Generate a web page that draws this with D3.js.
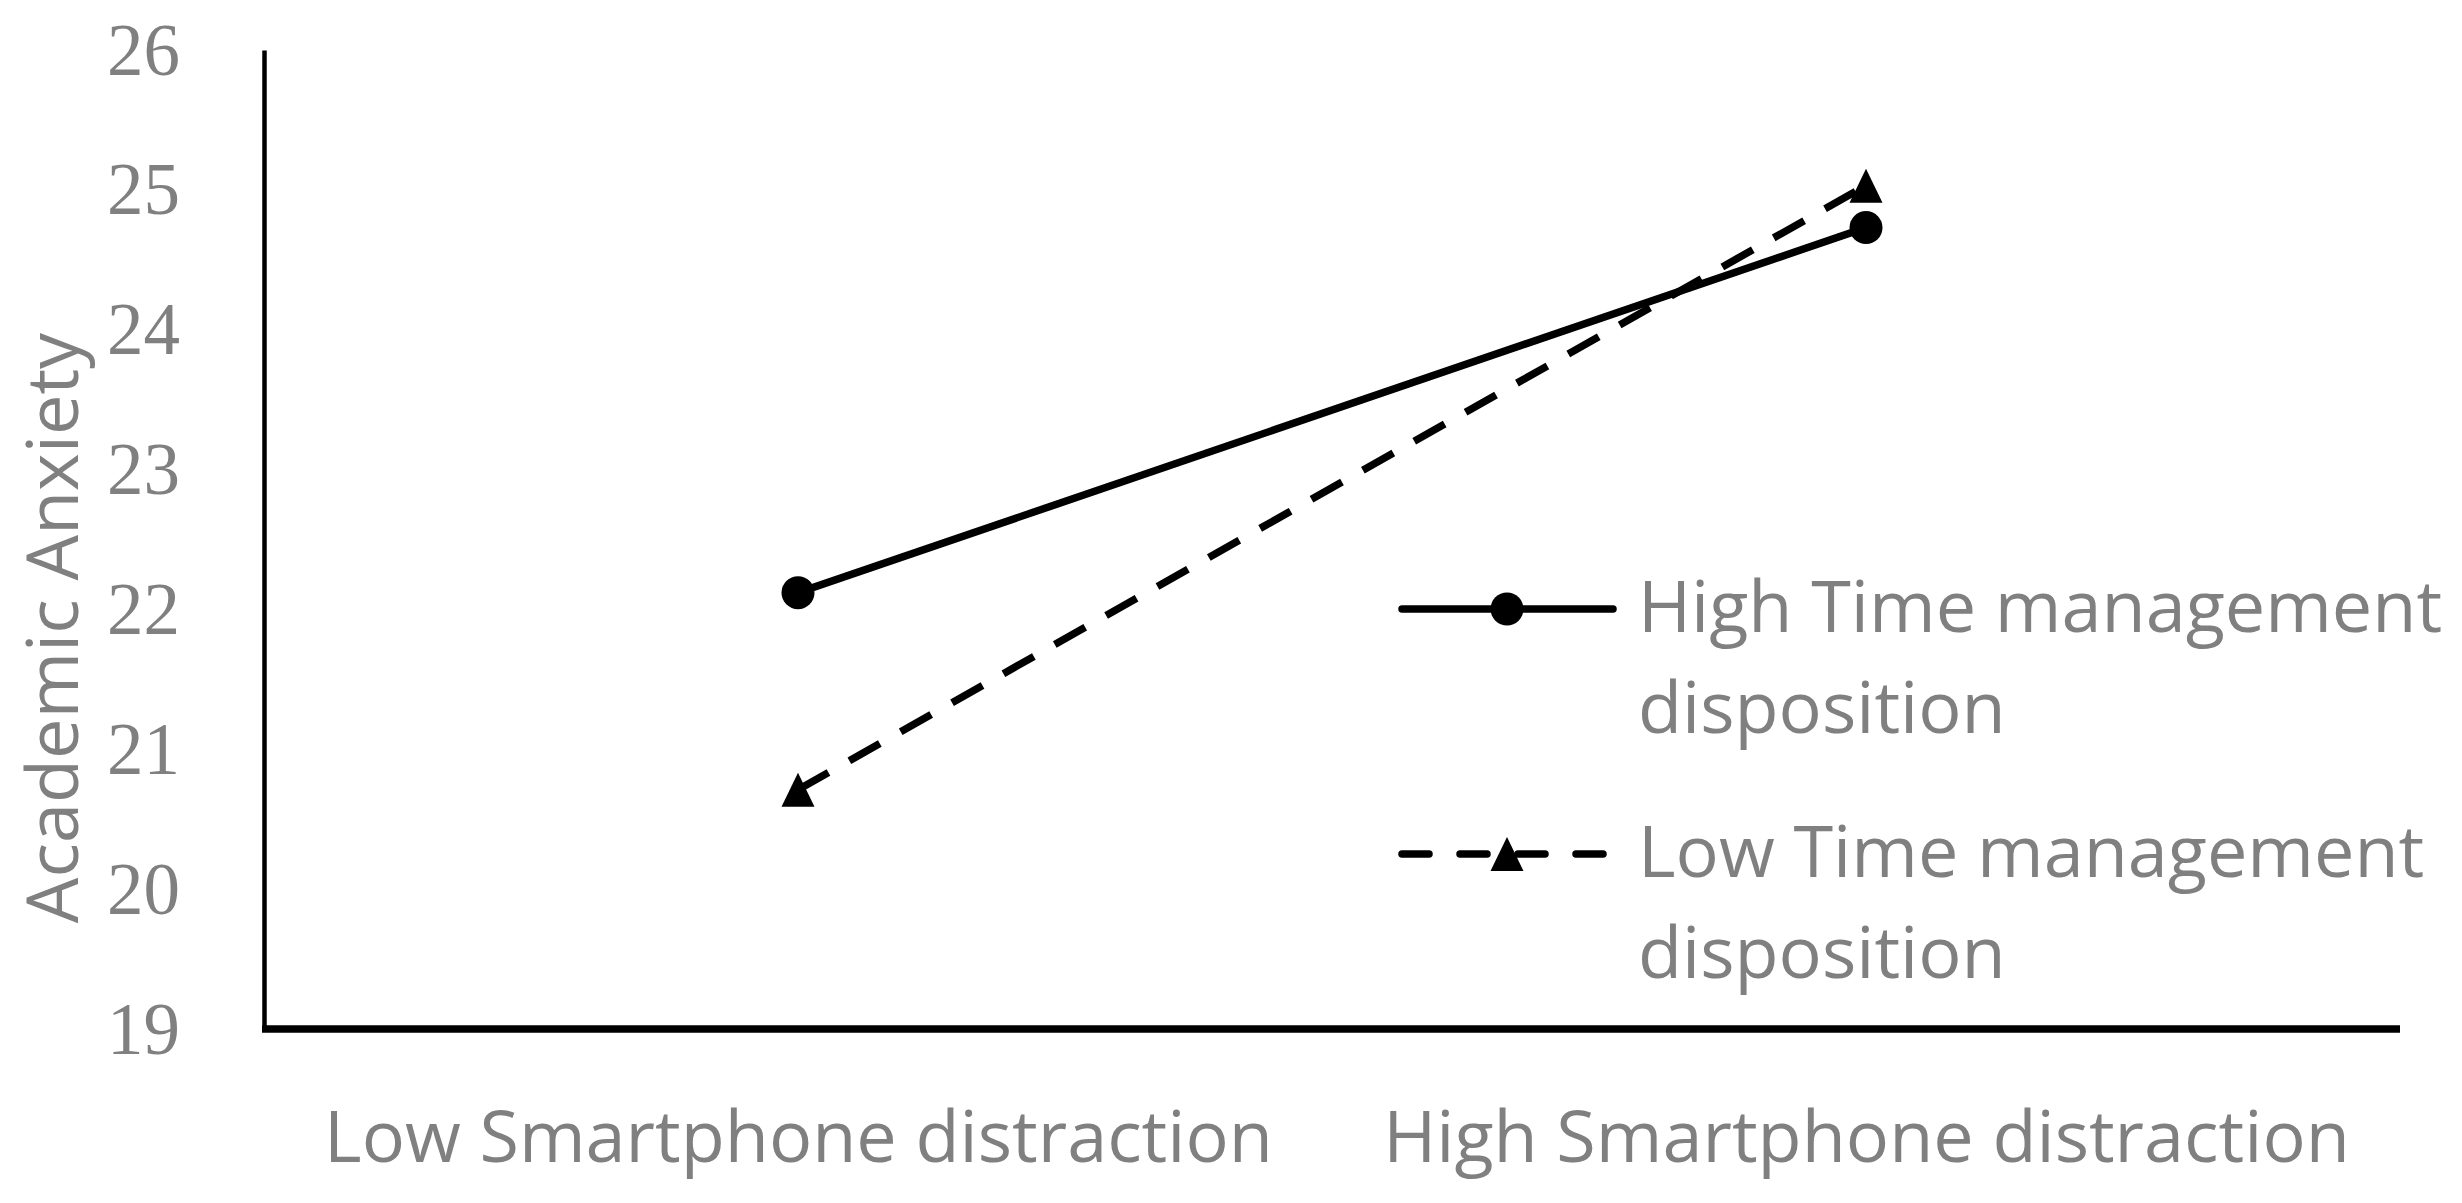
<!DOCTYPE html>
<html>
<head>
<meta charset="utf-8">
<script src="https://cdn.jsdelivr.net/npm/d3@7"></script>
<style>
  html, body { margin: 0; padding: 0; background: #fff; }
  svg { display: block; }
</style>
</head>
<body>
<svg id="chart" width="2462" height="1203"></svg>
<script>
// ---- data ----
const categories = ["Low Smartphone distraction", "High Smartphone distraction"];
const seriesNames = ["High Time management disposition", "Low Time management disposition"];
const legendLines = [["High Time management", "disposition"], ["Low Time management", "disposition"]];
const highTM = [22.12, 24.73];
const lowTM = [20.71, 25.03];
const yTicks = [19, 20, 21, 22, 23, 24, 25, 26];
const yTitle = "Academic Anxiety";

// ---- layout ----
const W = 2462, H = 1203;
const plot = { left: 264, right: 2400, top: 50, bottom: 1029 };
const grey = "#808080";
const sansFont = "'Open Sans', 'Noto Sans', sans-serif";
const serifFont = "'Liberation Serif', 'DejaVu Serif', serif";
const sansSize = 72;

const svg = d3.select("#chart");

const x = d3.scalePoint().domain(categories).range([plot.left, plot.right]).padding(0.5);
const y = d3.scaleLinear().domain([19, 26]).range([plot.bottom, plot.top]);

// y axis
const yAxis = svg.append("g")
  .attr("transform", `translate(${plot.left},0)`)
  .call(d3.axisLeft(y).tickValues(yTicks).tickSize(0).tickSizeOuter(0).tickPadding(84).tickFormat(d3.format("d")));
yAxis.select(".domain").attr("stroke", "#000").attr("stroke-width", 4.5);
yAxis.selectAll(".tick text")
  .attr("fill", grey)
  .attr("font-family", serifFont)
  .attr("font-size", 73)
  .attr("dy", "0.33em");

// x axis
const xAxis = svg.append("g")
  .attr("transform", `translate(0,${plot.bottom})`)
  .call(d3.axisBottom(x).tickSize(0).tickSizeOuter(0).tickPadding(0));
xAxis.select(".domain").attr("stroke", "#000").attr("stroke-width", 7.5)
  .attr("d", `M${plot.left - 2},0H${plot.right}`);
xAxis.selectAll(".tick text")
  .attr("fill", grey)
  .attr("font-family", sansFont)
  .attr("font-size", sansSize)
  .attr("dy", null)
  .attr("y", 133);

// y title
svg.append("text")
  .attr("transform", `translate(78,628) rotate(-90)`)
  .attr("text-anchor", "middle")
  .attr("fill", grey)
  .attr("font-family", sansFont)
  .attr("font-size", sansSize)
  .text(yTitle);

const lineGen = d3.line().x((d, i) => x(categories[i])).y(d => y(d));

// lines
svg.append("path").datum(lowTM)
  .attr("d", lineGen).attr("fill", "none").attr("stroke", "#000")
  .attr("stroke-width", 7.5).attr("stroke-dasharray", "35,24");
svg.append("path").datum(highTM)
  .attr("d", lineGen).attr("fill", "none").attr("stroke", "#000")
  .attr("stroke-width", 7.5);

const triPath = "M0,-17L16.5,17L-16.5,17Z";

// markers
svg.selectAll(".mk-high").data(highTM).enter().append("circle")
  .attr("cx", (d, i) => x(categories[i])).attr("cy", d => y(d)).attr("r", 16.5).attr("fill", "#000");
svg.selectAll(".mk-low").data(lowTM).enter().append("path")
  .attr("d", triPath)
  .attr("transform", (d, i) => `translate(${x(categories[i])},${y(d)})`)
  .attr("fill", "#000");

// legend
const legend = svg.append("g");
const lg = [
  { y: 609, dashed: false, base: 632 },
  { y: 854, dashed: true, base: 877 }
];
lg.forEach((L, k) => {
  const g = legend.append("g");
  g.append("line")
    .attr("x1", 1402).attr("x2", 1613).attr("y1", L.y).attr("y2", L.y)
    .attr("stroke", "#000").attr("stroke-width", 7.5).attr("stroke-linecap", "round")
    .attr("stroke-dasharray", L.dashed ? "27,31" : null);
  if (!L.dashed) {
    g.append("circle").attr("cx", 1507).attr("cy", L.y).attr("r", 16.5).attr("fill", "#000");
  } else {
    g.append("path").attr("d", triPath).attr("transform", `translate(1507,${L.y})`).attr("fill", "#000");
  }
  legendLines[k].forEach((s, j) => {
    g.append("text")
      .attr("fill", grey).attr("font-family", sansFont).attr("font-size", sansSize)
      .attr("x", 1638).attr("y", L.base + j * 101)
      .text(s);
  });
});
</script>
</body>
</html>
